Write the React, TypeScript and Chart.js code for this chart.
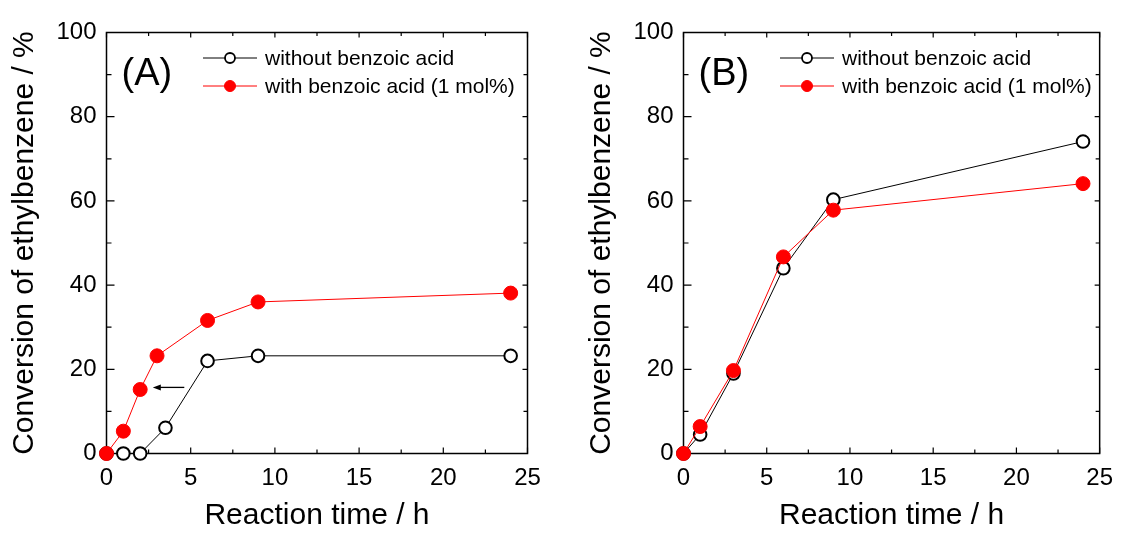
import React, { useEffect, useRef } from "react";
import { Chart, registerables } from "chart.js";

Chart.register(...registerables);

// ---------- data ----------
const X_TICKS_MAJOR = [0, 5, 10, 15, 20, 25];
const X_TICKS_MINOR = [2.5, 7.5, 12.5, 17.5, 22.5];
const Y_TICKS_MAJOR = [0, 20, 40, 60, 80, 100];
const Y_TICKS_MINOR = [10, 30, 50, 70, 90];

const SERIES_LABELS = ["without benzoic acid", "with benzoic acid (1 mol%)"];
const PANEL_LABELS = ["(A)", "(B)"];
const X_TITLE = "Reaction time / h";
const Y_TITLE = "Conversion of ethylbenzene / %";

const A_TIME_WITHOUT = [0, 1, 2, 3.5, 6, 9, 24];
const A_CONV_WITHOUT = [0, 0, 0, 6.1, 22.0, 23.2, 23.2];
const A_TIME_WITH = [0, 1, 2, 3, 6, 9, 24];
const A_CONV_WITH = [0, 5.3, 15.2, 23.2, 31.6, 36.0, 38.1];

const B_TIME = [0, 1, 3, 6, 9, 24];
const B_CONV_WITHOUT = [0, 4.5, 19.0, 44.0, 60.3, 74.1];
const B_CONV_WITH = [0, 6.4, 19.7, 46.7, 57.8, 64.1];

// arrow in panel A (data coordinates)
const A_ARROW_FROM_X = 4.62;
const A_ARROW_TO_X = 2.75;
const A_ARROW_Y = 15.7;

// ---------- styling ----------
const FONT = "'Liberation Sans', Arial, Helvetica, sans-serif";
const RED = "#ff0000";
const BLACK = "#000000";

const zip = (xs: number[], ys: number[]) => xs.map((x, i) => ({ x, y: ys[i] }));

function makeDatasets(tWithout: number[], cWithout: number[], tWith: number[], cWith: number[]) {
  return [
    {
      label: SERIES_LABELS[1],
      data: zip(tWith, cWith),
      borderColor: RED,
      backgroundColor: RED,
      borderWidth: 1,
      pointRadius: 7,
      pointBorderWidth: 1,
      pointBackgroundColor: RED,
      pointBorderColor: RED,
      showLine: true,
      tension: 0,
      clip: false,
      order: 0,
      legendIndex: 1,
    },
    {
      label: SERIES_LABELS[0],
      data: zip(tWithout, cWithout),
      borderColor: BLACK,
      backgroundColor: "#ffffff",
      borderWidth: 1,
      pointRadius: 6.3,
      pointBorderWidth: 2,
      pointBackgroundColor: "#ffffff",
      pointBorderColor: BLACK,
      showLine: true,
      tension: 0,
      clip: false,
      order: 1,
      legendIndex: 0,
    },
  ];
}

const framePlugin = {
  id: "frame",
  beforeDatasetsDraw(chart: any) {
    const { ctx, chartArea: ca, scales } = chart;
    const xs = scales.x;
    const ys = scales.y;
    ctx.save();
    ctx.strokeStyle = BLACK;
    ctx.lineWidth = 1.5;
    ctx.strokeRect(ca.left, ca.top, ca.right - ca.left, ca.bottom - ca.top);
    ctx.lineWidth = 1.2;
    ctx.beginPath();
    const xt = (vals: number[], lenB: number, lenT: number) => {
      vals.forEach((v) => {
        const px = xs.getPixelForValue(v);
        ctx.moveTo(px, ca.bottom);
        ctx.lineTo(px, ca.bottom - lenB);
        ctx.moveTo(px, ca.top);
        ctx.lineTo(px, ca.top + lenT);
      });
    };
    const yt = (vals: number[], lenL: number, lenR: number) => {
      vals.forEach((v) => {
        const py = ys.getPixelForValue(v);
        ctx.moveTo(ca.left, py);
        ctx.lineTo(ca.left + lenL, py);
        ctx.moveTo(ca.right, py);
        ctx.lineTo(ca.right - lenR, py);
      });
    };
    xt(X_TICKS_MAJOR, 6, 5);
    xt(X_TICKS_MINOR, 4, 3.5);
    yt(Y_TICKS_MAJOR, 8, 5);
    yt(Y_TICKS_MINOR, 5, 4);
    ctx.stroke();
    ctx.restore();
  },
  afterDatasetsDraw(chart: any, _args: any, opts: any) {
    const { ctx, chartArea: ca, scales } = chart;
    ctx.save();
    // panel label
    ctx.fillStyle = BLACK;
    ctx.font = `38px ${FONT}`;
    ctx.textAlign = "left";
    ctx.textBaseline = "alphabetic";
    ctx.fillText(opts.panelLabel, ca.left + 15, ca.top + 52.5);

    // legend
    const rows = [25.5, 53.5];
    const sets = chart.data.datasets.slice().sort((a: any, b: any) => a.legendIndex - b.legendIndex);
    sets.forEach((ds: any, i: number) => {
      const y = ca.top + rows[i];
      const x0 = ca.left + 96.5;
      const x1 = ca.left + 150.5;
      const xm = ca.left + 123.5;
      ctx.strokeStyle = ds.borderColor;
      ctx.lineWidth = 1;
      ctx.beginPath();
      ctx.moveTo(x0, y);
      ctx.lineTo(x1, y);
      ctx.stroke();
      ctx.beginPath();
      ctx.arc(xm, y, ds.legendIndex === 0 ? 5 : 5.5, 0, Math.PI * 2);
      ctx.fillStyle = ds.pointBackgroundColor;
      ctx.fill();
      ctx.lineWidth = ds.legendIndex === 0 ? 1.8 : 1;
      ctx.strokeStyle = ds.pointBorderColor;
      ctx.stroke();
      ctx.fillStyle = BLACK;
      ctx.font = `21px ${FONT}`;
      ctx.textBaseline = "middle";
      ctx.fillText(ds.label, ca.left + 158.5, y + 1);
    });

    // arrow
    if (opts.arrow) {
      const xs = scales.x;
      const ys = scales.y;
      const ax0 = xs.getPixelForValue(opts.arrow.from);
      const ax1 = xs.getPixelForValue(opts.arrow.to);
      const ay = ys.getPixelForValue(opts.arrow.y);
      ctx.strokeStyle = BLACK;
      ctx.fillStyle = BLACK;
      ctx.lineWidth = 1.3;
      ctx.beginPath();
      ctx.moveTo(ax0, ay);
      ctx.lineTo(ax1 + 6, ay);
      ctx.stroke();
      ctx.beginPath();
      ctx.moveTo(ax1, ay);
      ctx.lineTo(ax1 + 8, ay - 3);
      ctx.lineTo(ax1 + 8, ay + 3);
      ctx.closePath();
      ctx.fill();
    }
    ctx.restore();
  },
};

type PanelProps = {
  left: number;
  width: number;
  rightPad: number;
  datasets: any[];
  panelLabel: string;
  arrow?: { from: number; to: number; y: number } | null;
};

function Panel({ left, width, rightPad, datasets, panelLabel, arrow }: PanelProps) {
  const ref = useRef<HTMLCanvasElement | null>(null);
  useEffect(() => {
    if (!ref.current) return;
    const chart = new Chart(ref.current, {
      type: "line",
      data: { datasets },
      plugins: [framePlugin],
      options: {
        responsive: false,
        animation: false,
        devicePixelRatio: 1,
        layout: { padding: { left: 0, top: 32.5, right: rightPad, bottom: 0 } },
        plugins: {
          legend: { display: false },
          tooltip: { enabled: false },
          frame: { panelLabel, arrow },
        } as any,
        scales: {
          x: {
            type: "linear",
            position: "bottom",
            min: 0,
            max: 25,
            afterBuildTicks: (s: any) => {
              s.ticks = X_TICKS_MAJOR.map((v) => ({ value: v }));
            },
            ticks: {
              font: { family: FONT, size: 24 },
              color: BLACK,
              padding: 10,
              maxRotation: 0,
              autoSkip: false,
            },
            grid: { display: false, drawTicks: false },
            border: { display: false },
            title: {
              display: true,
              text: X_TITLE,
              color: BLACK,
              font: { family: FONT, size: 30, lineHeight: 1.2 },
              padding: { top: 0, bottom: 0 },
            },
            afterFit: (s: any) => {
              s.height = 534 - 453.5;
            },
          },
          y: {
            type: "linear",
            position: "left",
            min: 0,
            max: 100,
            afterBuildTicks: (s: any) => {
              s.ticks = Y_TICKS_MAJOR.map((v) => ({ value: v }));
            },
            ticks: {
              font: { family: FONT, size: 24 },
              color: BLACK,
              padding: 10,
              autoSkip: false,
            },
            grid: { display: false, drawTicks: false },
            border: { display: false },
            title: {
              display: true,
              text: Y_TITLE,
              color: BLACK,
              font: { family: FONT, size: 30, lineHeight: 1.2 },
              padding: { top: 7, bottom: 0 },
            },
            afterFit: (s: any) => {
              s.width = 106.5;
            },
          },
        },
      } as any,
    });
    return () => chart.destroy();
  }, []);
  return (
    <canvas
      ref={ref}
      width={width}
      height={534}
      style={{ position: "absolute", left, top: 0, width, height: 534 }}
    />
  );
}

export default function App() {
  const dsA = makeDatasets(A_TIME_WITHOUT, A_CONV_WITHOUT, A_TIME_WITH, A_CONV_WITH);
  const dsB = makeDatasets(B_TIME, B_CONV_WITHOUT, B_TIME, B_CONV_WITH);
  return (
    <div
      style={{
        position: "absolute",
        left: 0,
        top: 0,
        width: 1123,
        height: 534,
        background: "#ffffff",
        overflow: "hidden",
      }}
    >
      <Panel
        left={0}
        width={577}
        rightPad={49.5}
        datasets={dsA}
        panelLabel={PANEL_LABELS[0]}
        arrow={{ from: A_ARROW_FROM_X, to: A_ARROW_TO_X, y: A_ARROW_Y }}
      />
      <Panel
        left={577}
        width={546}
        rightPad={18.5}
        datasets={dsB}
        panelLabel={PANEL_LABELS[1]}
        arrow={null}
      />
    </div>
  );
}
